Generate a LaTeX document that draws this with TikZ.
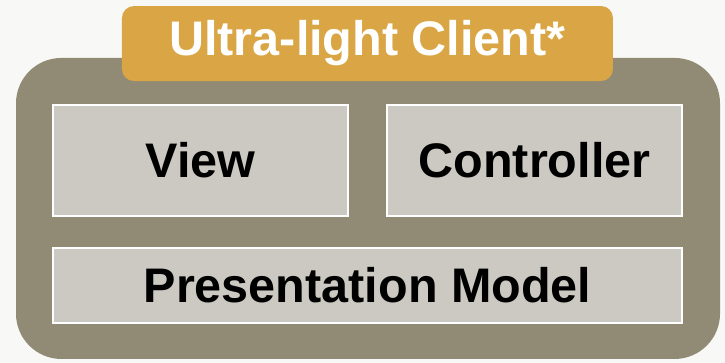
\documentclass[tikz,border=0pt]{standalone}
\usepackage{fontspec}
\setmainfont{Liberation Sans}
\usepackage{tikz}
\usetikzlibrary{positioning, calc}
\definecolor{pagebg}{HTML}{F8F8F6}
\definecolor{clientgray}{HTML}{918A74}
\definecolor{titlegold}{HTML}{DAA645}
\definecolor{partgray}{HTML}{CBC9C1}

\begin{document}
\begin{tikzpicture}[
    node distance=27.75pt,
    client/.style={rectangle, rounded corners=34pt, fill=clientgray, minimum width=528pt, minimum height=225.75pt},
    caption/.style={rectangle, rounded corners=9pt, fill=titlegold, text=white, minimum width=368.25pt, minimum height=56.25pt, font=\fontsize{36.4}{40}\selectfont\bfseries},
    part/.style={rectangle, draw=white, line width=1.5pt, fill=partgray, minimum width=221.25pt, minimum height=83.25pt, font=\fontsize{36.4}{40}\selectfont\bfseries}
]

% Page
\fill[pagebg] (0,0) rectangle (543.75pt,272.25pt);
\useasboundingbox (0,0) rectangle (543.75pt,272.25pt);

% Client container
\node[client] (client) at (276pt,115.9pt) {};
\node[caption] (title) at (275.6pt,239.6pt) {Ultra-light Client*};

% Parts
\node[part] (view) at (150.4pt,151.9pt) {View};
\node[part, right=of view] (ctrl) {Controller};
\node[part, minimum width=471.75pt, minimum height=56.25pt, below=22.5pt of $(view.south)!0.5!(ctrl.south)$] (pm) {Presentation Model};

\end{tikzpicture}
\end{document}
